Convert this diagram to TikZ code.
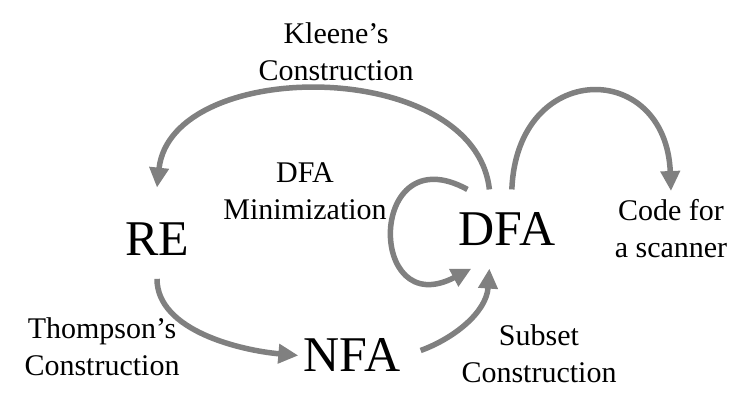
\documentclass[tikz,border=0pt]{standalone}
\usepackage{fontspec}
\setmainfont{Liberation Serif}
\usetikzlibrary{arrows.meta}
\usepackage{xcolor}
\definecolor{FlowGray}{RGB}{128,128,128}

\begin{document}
\begin{tikzpicture}[
    x=0.4pt, y=-0.4pt,
    automaton/.style={font=\fontsize{20}{24}\selectfont, inner xsep=2pt, inner ysep=9pt},
    caption/.style={font=\fontsize{12}{15}\selectfont, align=center, inner sep=3pt},
    link/.style={FlowGray, line width=2.2pt, -{Triangle[length=8pt,width=7.5pt]}}
  ]
  \useasboundingbox (0,0) rectangle (742,404);

  \node (re) [automaton] at (157,239.5) {RE};
  \node (dfa) [automaton] at (507,229) {DFA};
  \node (nfa) [automaton] at (352,355.5) {NFA};
  \node (scanner) [caption] at (671,228.5) {Code for\\a scanner};

  \node (kleene) [caption] at (336,51.5) {Kleene’s\\Construction};
  \node (minimize) [caption] at (305,191.5) {DFA\\Minimization};
  \node (thompson) [caption] at (102,346.5) {Thompson’s\\Construction};
  \node (subset) [caption] at (539,353.5) {Subset\\Construction};

  \draw[link] (dfa.114) .. controls +(-15,-133) and +(14,-131) .. ([yshift=5pt]re.north);
  \draw[link] (dfa.135) .. controls +(-100,-55) and +(-105,55) .. (dfa.228);
  \draw[link] (dfa.83) .. controls +(5,-130) and +(-5,-132) .. (scanner.north);
  \draw[link] (re.south) .. controls +(0,52) and +(-57,-5) .. (nfa.west);
  \draw[link] ([xshift=6pt,yshift=2pt]nfa.east) .. controls +(33,-12) and +(-3,44) .. (dfa.246);
\end{tikzpicture}
\end{document}
